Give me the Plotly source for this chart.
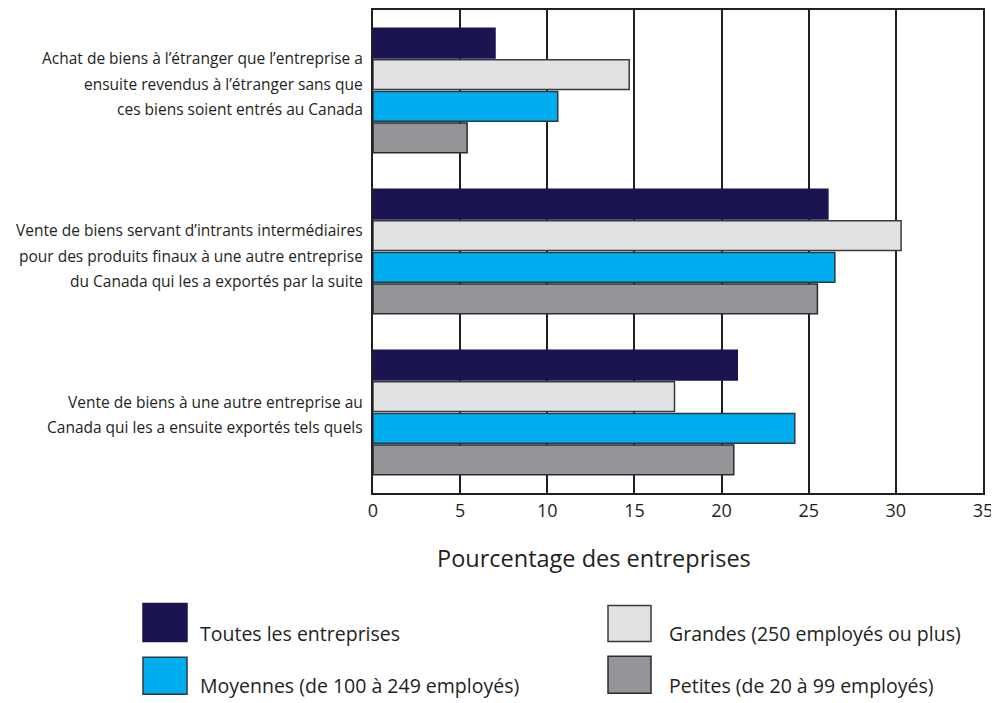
import plotly.graph_objects as go

# ---- data ----
category_lines = [
    ["Achat de biens à l’étranger que l’entreprise a",
     "ensuite revendus à l’étranger sans que",
     "ces biens soient entrés au Canada"],
    ["Vente de biens servant d’intrants intermédiaires",
     "pour des produits finaux à une autre entreprise",
     "du Canada qui les a exportés par la suite"],
    ["Vente de biens à une autre entreprise au",
     "Canada qui les a ensuite exportés tels quels"],
]
categories = [" ".join(l) for l in category_lines]

series_names = [
    "Toutes les entreprises",
    "Grandes (250 employés ou plus)",
    "Moyennes (de 100 à 249 employés)",
    "Petites (de 20 à 99 employés)",
]
toutes = [7.0, 26.1, 20.9]
grandes = [14.7, 30.3, 17.3]
moyennes = [10.6, 26.5, 24.2]
petites = [5.4, 25.5, 20.7]
series_values = [toutes, grandes, moyennes, petites]

x_ticks = [0, 5, 10, 15, 20, 25, 30, 35]
x_title = "Pourcentage des entreprises"

# ---- styles ----
colors = ["#1a1450", "#e1e2e4", "#00aeef", "#939598"]
outlines = ["#1a1450", "#3a3a3a", "#2a3a45", "#2b2b2b"]
txt = "#231f20"
FONT = "Open Sans"
label_shift = [-7, 4, 2]   # vertical nudge (px, down positive) of each category label block
line_h = 25.5

# the page body has an 8px default margin; compensate so the picture lines up
OFF = 8
W, H = 999 - OFF, 703 - OFF
L, R, T, B = 373 - OFF, 16, 0, 210
PW = W - L - R
PH = H - T - B


def px_x(px):
    return (px - OFF - L) / PW


def px_y(py):
    return (H - B - (py - OFF)) / PH


fig = go.Figure()
for name, vals, c, oc in zip(series_names, series_values, colors, outlines):
    fig.add_trace(go.Bar(
        y=categories, x=vals, name=name, orientation="h",
        marker=dict(color=c, line=dict(color=oc, width=1.5)),
        showlegend=False,
    ))

annotations = []
# y-axis category labels, one annotation per line
for cat, lines, sh in zip(categories, category_lines, label_shift):
    n = len(lines)
    for i, line in enumerate(lines):
        off = (i - (n - 1) / 2) * line_h + sh
        annotations.append(dict(
            x=0, xref="paper", y=cat, yref="y", xanchor="right", yanchor="middle",
            xshift=-8, yshift=-off, text=line, showarrow=False,
            font=dict(family=FONT, size=15.5, color=txt), align="right",
        ))

# x-axis title
annotations.append(dict(
    x=px_x(594), xref="paper", y=px_y(558), yref="paper", xanchor="center", yanchor="middle",
    text=x_title, showarrow=False, font=dict(family=FONT, size=23.5, color=txt),
))

# custom legend
shapes = []
legend_pos = [  # (x0, y0, x1, y1, text_x, text_y)
    (143, 604, 187, 642, 198, 634),
    (608, 606, 651, 642, 667, 634),
    (143, 658, 187, 695, 198, 686),
    (608, 657, 651, 694, 667, 686),
]
for (x0, y0, x1, y1, tx, ty), name, c, oc in zip(legend_pos, series_names, colors, outlines):
    shapes.append(dict(
        type="rect", xref="paper", yref="paper",
        x0=px_x(x0), x1=px_x(x1), y0=px_y(y1), y1=px_y(y0),
        fillcolor=c, line=dict(color=oc, width=1.5),
    ))
    annotations.append(dict(
        x=px_x(tx), xref="paper", y=px_y(ty), yref="paper", xanchor="left", yanchor="middle",
        text=name, showarrow=False, font=dict(family=FONT, size=19.5, color=txt),
    ))

fig.update_layout(
    width=W, height=H,
    margin=dict(l=L, r=R, t=T, b=B),
    paper_bgcolor="white", plot_bgcolor="white",
    barmode="group", bargap=0.214, bargroupgap=0.06,
    annotations=annotations, shapes=shapes,
    font=dict(family=FONT, color=txt),
    xaxis=dict(
        range=[0, 35], tickvals=x_ticks, ticktext=[str(v) for v in x_ticks],
        showgrid=True, gridcolor="#231f20", gridwidth=2,
        showline=True, linecolor="#231f20", linewidth=2, mirror=True,
        ticks="", tickfont=dict(family=FONT, size=18, color=txt),
        zeroline=False, fixedrange=True,
    ),
    yaxis=dict(
        categoryorder="array", categoryarray=categories, autorange="reversed",
        showticklabels=False, showgrid=False,
        showline=True, linecolor="#231f20", linewidth=2, mirror=True,
        ticks="", fixedrange=True,
    ),
)

fig.write_html("out.html")
